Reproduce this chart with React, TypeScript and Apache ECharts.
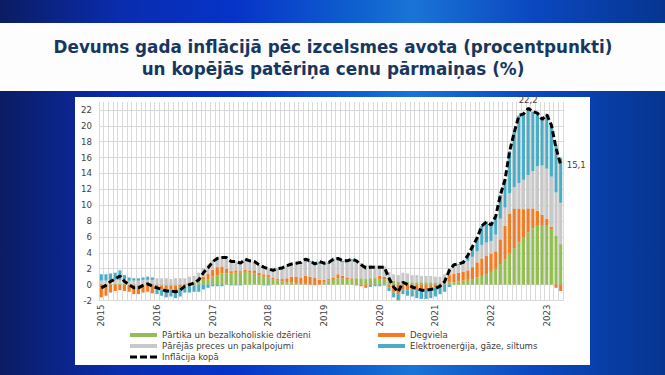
import React, { useEffect, useRef } from "react";
import * as echarts from "echarts";

const years = [2015, 2016, 2017, 2018, 2019, 2020, 2021, 2022, 2023];
const lastMonthOf2023 = 4;
const categories: string[] = [];
years.forEach((y) => {
  const n = y === 2023 ? lastMonthOf2023 : 12;
  for (let m = 1; m <= n; m++) categories.push(`${y}-${m < 10 ? "0" + m : m}`);
});

const seriesNames = [
  "Pārtika un bezalkoholiskie dzērieni",
  "Degviela",
  "Pārējās preces un pakalpojumi",
  "Elektroenerģija, gāze, siltums",
  "Inflācija kopā",
];

// Pārtika un bezalkoholiskie dzērieni (pp)
const food = [
  0.1, 0.1, 0.1, 0.1, 0.1, 0.1, 0.0, 0.0, -0.1, -0.1, 0.0, 0.0,
  0.0, -0.1, -0.1, -0.1, -0.1, 0.0, 0.1, 0.2, 0.3, 0.4, 0.6, 0.7,
  1.0, 1.2, 1.4, 1.4, 1.4, 1.5, 1.5, 1.6, 1.5, 1.4, 1.2, 1.0,
  0.9, 0.7, 0.5, 0.4, 0.3, 0.3, 0.2, 0.1, 0.1, 0.0, -0.1, 0.0,
  0.3, 0.5, 0.6, 0.8, 0.8, 0.7, 0.7, 0.8, 0.8, 0.7, 0.8, 0.8,
  0.7, 0.7, 0.6, 0.5, 0.4, 0.4, 0.4, 0.3, 0.3, 0.3, 0.3, 0.3,
  0.2, 0.2, 0.2, 0.3, 0.3, 0.4, 0.5, 0.6, 0.7, 0.9, 1.1, 1.3,
  1.6, 2.0, 2.6, 3.2, 3.9, 4.6, 5.3, 6.0, 6.6, 7.1, 7.4, 7.4,
  7.4, 7.0, 6.2, 5.1,
];

// Degviela (pp)
const fuel = [
  -1.6, -1.4, -1.0, -0.8, -0.7, -0.8, -0.9, -1.2, -1.1, -0.9, -0.9, -1.1,
  -0.3, -0.5, -0.5, -0.5, -0.6, -0.4, -0.3, -0.2, -0.1, 0.1, 0.4, 0.7,
  0.9, 1.0, 0.9, 0.6, 0.3, 0.3, 0.2, 0.3, 0.3, 0.4, 0.3, 0.3,
  0.3, 0.2, 0.2, 0.3, 0.5, 0.7, 0.8, 0.8, 1.0, 1.0, 0.9, 0.6,
  0.3, 0.2, 0.3, 0.5, 0.3, 0.2, 0.1, -0.1, -0.2, -0.3, -0.2, 0.1,
  0.4, 0.3, -0.4, -1.0, -1.2, -0.7, -0.7, -0.7, -0.7, -0.7, -0.7, -0.6,
  -0.4, -0.2, 0.3, 0.9, 1.1, 1.1, 1.1, 1.2, 1.5, 1.9, 2.2, 2.3,
  2.3, 2.2, 3.1, 4.2, 5.0, 5.0, 4.3, 3.5, 3.0, 2.5, 1.9, 1.4,
  0.9, 0.3, -0.4, -0.8,
];

// Pārējās preces un pakalpojumi (pp)
const other = [
  0.4, 0.4, 0.5, 0.5, 0.5, 0.5, 0.5, 0.5, 0.5, 0.6, 0.6, 0.6,
  0.8, 0.8, 0.8, 0.7, 0.8, 0.8, 0.7, 0.8, 0.8, 1.0, 1.1, 1.1,
  1.2, 1.3, 1.3, 1.4, 1.3, 1.2, 1.1, 1.3, 1.2, 1.1, 1.0, 1.0,
  0.9, 0.9, 1.2, 1.3, 1.5, 1.5, 1.6, 1.7, 1.9, 1.8, 1.6, 2.0,
  1.9, 1.9, 2.1, 1.8, 1.7, 1.9, 2.2, 2.2, 1.9, 1.8, 1.7, 1.5,
  1.3, 1.3, 1.0, 0.8, 0.8, 1.1, 1.0, 0.9, 0.9, 0.8, 0.8, 0.8,
  0.8, 0.8, 0.8, 0.9, 1.0, 1.0, 1.0, 1.2, 1.3, 1.4, 1.7, 1.7,
  1.6, 2.1, 2.6, 2.3, 2.6, 2.7, 3.2, 3.7, 4.2, 4.7, 5.6, 6.2,
  6.3, 6.3, 5.4, 5.2,
];

// Elektroenerģija, gāze, siltums (pp)
const energy = [
  0.8, 0.8, 0.8, 0.9, 1.2, 0.6, 0.4, 0.3, 0.3, 0.3, 0.4, 0.3,
  -0.9, -0.8, -1.0, -0.9, -1.0, -1.1, -0.7, -0.8, -0.8, -0.9, -0.6, -0.4,
  -0.2, -0.2, -0.2, 0.0, -0.1, -0.1, -0.1, 0.0, 0.0, 0.0, 0.0, -0.1,
  -0.1, 0.0, 0.1, 0.1, 0.1, 0.1, 0.1, 0.2, 0.2, 0.2, 0.2, 0.3,
  0.2, 0.2, 0.2, 0.2, 0.2, 0.2, 0.2, 0.1, 0.0, -0.1, -0.1, -0.2,
  -0.2, -0.1, -0.4, -0.6, -0.9, -0.5, -0.7, -0.8, -1.0, -1.1, -1.1, -1.1,
  -1.1, -1.0, -0.9, -0.3, 0.1, 0.1, 0.2, 0.7, 1.3, 1.7, 2.4, 2.6,
  2.0, 2.3, 3.0, 3.5, 5.3, 6.9, 8.5, 8.3, 8.4, 7.5, 6.7, 5.8,
  6.8, 6.5, 6.0, 5.6,
];

// Inflācija kopā (%)
const total = [
  -0.4, -0.1, 0.4, 0.7, 1.1, 0.4, 0.0, -0.4, -0.4, -0.1, 0.1, -0.2,
  -0.4, -0.6, -0.8, -0.8, -0.9, -0.7, -0.2, 0.0, 0.2, 0.6, 1.5, 2.1,
  2.9, 3.3, 3.4, 3.4, 2.9, 2.9, 2.7, 3.2, 3.0, 2.9, 2.5, 2.2,
  2.0, 1.8, 2.0, 2.1, 2.4, 2.6, 2.7, 2.8, 3.2, 3.0, 2.6, 2.9,
  2.7, 2.8, 3.2, 3.3, 3.0, 3.0, 3.2, 3.0, 2.5, 2.1, 2.2, 2.2,
  2.2, 2.2, 0.8, -0.3, -0.9, 0.3, 0.0, -0.3, -0.5, -0.7, -0.7, -0.6,
  -0.5, -0.2, 0.4, 1.8, 2.5, 2.6, 2.8, 3.7, 4.8, 5.9, 7.4, 7.9,
  7.5, 8.6, 11.3, 13.2, 16.8, 19.2, 21.3, 21.5, 22.2, 21.8, 21.6, 20.8,
  21.4, 20.1, 17.2, 15.1,
];

const labelledPoints = ["2022-09", "2023-04"];

const FONT = '"DejaVu Sans", Verdana, sans-serif';
const TXT = "#404040";
const colors = ["#92bf4f", "#f57b20", "#c8c8c8", "#4bacc6", "#000000"];
const GRID = "#d9d9d9";

const fmt = (v: number) => String(v).replace(".", ",");

export default function App() {
  const ref = useRef<HTMLDivElement>(null);

  useEffect(() => {
    if (!ref.current) return;
    const chart = echarts.init(ref.current, null, { renderer: "svg" });

    const barSeries = [food, fuel, other, energy].map((arr, i) => ({
      name: seriesNames[i],
      type: "bar",
      stack: "contrib",
      stackStrategy: "samesign",
      barCategoryGap: "34%",
      itemStyle: { color: colors[i] },
      data: arr,
      z: 2,
    }));

    const lineData = total.map((v, i) => {
      const cat = categories[i];
      if (cat === labelledPoints[0])
        return { value: v, label: { show: true, position: "top", distance: 4 } };
      if (cat === labelledPoints[1])
        return { value: v, label: { show: true, position: "right", distance: 6 } };
      return v;
    });

    // 14 ticks: -2..22 step 2, plus the extent max 23 (hidden)
    const splitColors: string[] = [];
    for (let i = 0; i < 13; i++) splitColors.push(GRID);
    splitColors.push("rgba(0,0,0,0)");

    const legendBase = {
      padding: 0,
      itemWidth: 27,
      itemHeight: 4,
      selectedMode: false,
      textStyle: { fontSize: 8.6, color: TXT, fontFamily: FONT, lineHeight: 10 },
    };

    chart.setOption({
      animation: false,
      textStyle: { fontFamily: FONT },
      graphic: [
        {
          type: "text",
          x: 333,
          y: 47,
          style: {
            text: "Devums gada inflācijā pēc izcelsmes avota (procentpunkti)",
            font: `bold 16.8px ${FONT}`,
            fill: "#17375e",
            align: "center",
            verticalAlign: "middle",
          },
        },
        {
          type: "text",
          x: 333,
          y: 69,
          style: {
            text: "un kopējās patēriņa cenu pārmaiņas (%)",
            font: `bold 16.8px ${FONT}`,
            fill: "#17375e",
            align: "center",
            verticalAlign: "middle",
          },
        },
      ],
      grid: { left: 99, right: 102, top: 102, bottom: 74.5, containLabel: false },
      xAxis: {
        type: "category",
        data: categories,
        boundaryGap: true,
        axisLine: { show: true, onZero: false, lineStyle: { color: GRID } },
        axisTick: { show: false },
        axisLabel: {
          interval: (index: number) => index % 12 === 0,
          rotate: 90,
          fontSize: 8.6,
          color: TXT,
          fontFamily: FONT,
          margin: 4,
          formatter: (v: string) => v.slice(0, 4),
        },
        splitLine: { show: true, interval: 0, lineStyle: { color: GRID, width: 1 } },
      },
      yAxis: {
        type: "value",
        min: -2,
        max: 23,
        interval: 2,
        axisLine: { show: true, lineStyle: { color: GRID } },
        axisTick: { show: false },
        axisLabel: {
          fontSize: 8.6,
          color: TXT,
          fontFamily: FONT,
          margin: 7,
          showMaxLabel: false,
          formatter: (v: number) => (v > 22 ? "" : String(v)),
        },
        splitLine: { show: true, lineStyle: { color: splitColors, width: 1 } },
      },
      legend: [
        { ...legendBase, left: 130, top: 330, data: [{ name: seriesNames[0], icon: "rect" }] },
        { ...legendBase, left: 130, top: 341, data: [{ name: seriesNames[2], icon: "rect" }] },
        {
          ...legendBase,
          left: 130,
          top: 352,
          itemHeight: 3,
          data: [
            {
              name: seriesNames[4],
              icon: "path://M0,0H7V3H0ZM10,0H17V3H10ZM20,0H27V3H20Z",
              itemStyle: { color: "#000000", borderWidth: 0 },
            },
          ],
        },
        { ...legendBase, left: 378, top: 330, data: [{ name: seriesNames[1], icon: "rect" }] },
        { ...legendBase, left: 378, top: 341, data: [{ name: seriesNames[3], icon: "rect" }] },
      ],
      series: [
        ...barSeries,
        {
          name: seriesNames[4],
          type: "line",
          data: lineData,
          symbol: "circle",
          symbolSize: 0,
          showSymbol: true,
          showAllSymbol: true,
          smooth: false,
          clip: false,
          z: 5,
          itemStyle: { color: "#000000" },
          lineStyle: { color: "#000000", width: 3, type: [6, 3] },
          labelLayout: { hideOverlap: false },
          label: {
            show: false,
            fontSize: 8.6,
            color: TXT,
            fontFamily: FONT,
            formatter: (p: any) => fmt(p.value),
          },
        },
      ],
    });

    return () => chart.dispose();
  }, []);

  return (
    <div
      style={{
        position: "absolute",
        left: 0,
        top: 0,
        width: 665,
        height: 375,
        overflow: "hidden",
        background:
          "linear-gradient(90deg, #0b1c63 0%, #0a2cae 18%, #0633c8 35%, #1063cf 55%, #1a74d6 62%, #0b48c0 80%, #063590 100%)",
      }}
    >
      <div
        style={{
          position: "absolute",
          left: 0,
          top: 23,
          width: 665,
          height: 68,
          background: "#fdfdfd",
        }}
      />
      <div
        style={{
          position: "absolute",
          left: 75,
          top: 97,
          width: 515,
          height: 268,
          background: "#ffffff",
        }}
      />
      <div ref={ref} style={{ position: "absolute", left: 0, top: 0, width: 665, height: 375 }} />
    </div>
  );
}
